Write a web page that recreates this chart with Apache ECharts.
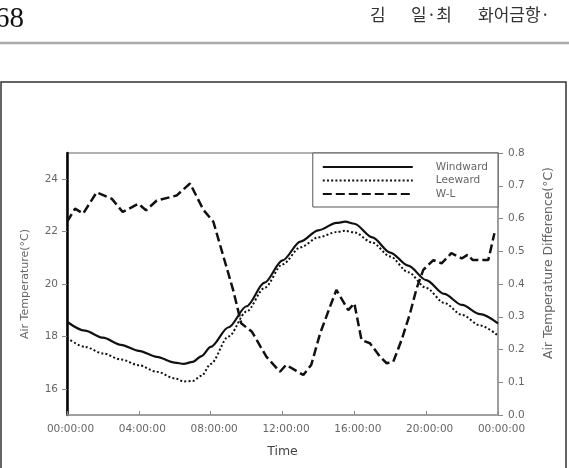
<!DOCTYPE html>
<html>
<head>
<meta charset="utf-8">
<script src="https://cdn.jsdelivr.net/npm/echarts@6/dist/echarts.min.js"></script>
<style>html,body{margin:0;padding:0;background:#fff;}#c{width:569px;height:468px;}</style>
</head>
<body>
<div id="c"></div>
<script>
// Time axis (hours) for the temperature curves
const tempHours = [0,1,2,3,4,5,6,6.5,7,7.5,8,9,10,11,12,13,14,15,15.5,16,17,18,19,20,21,22,23,24];
const windward  = [18.56,18.22,17.95,17.68,17.45,17.22,17.0,16.95,17.03,17.25,17.6,18.35,19.15,20.05,20.9,21.62,22.05,22.33,22.38,22.3,21.78,21.2,20.7,20.15,19.62,19.2,18.85,18.5];
const leeward   = [17.94,17.6,17.35,17.12,16.9,16.65,16.4,16.28,16.3,16.5,16.95,18.0,18.95,19.85,20.75,21.4,21.78,21.98,22.03,21.97,21.58,21.05,20.45,19.85,19.28,18.82,18.42,18.03];
// W-L difference (right axis)
const wlHours = [0,0.45,0.9,1.65,2.5,3.1,3.97,4.4,5.0,6.1,6.85,7.6,8.15,9.26,9.7,10.3,11.1,11.86,12.2,12.7,13.16,13.6,14.1,14.64,15.0,15.66,16.0,16.4,16.87,17.43,17.8,18.17,18.63,19.1,19.47,19.84,20.4,20.86,21.4,21.98,22.3,22.6,23.46,23.8];
const wlDiff  = [0.59,0.63,0.615,0.68,0.66,0.62,0.645,0.625,0.655,0.67,0.707,0.626,0.59,0.38,0.28,0.254,0.178,0.132,0.153,0.137,0.122,0.153,0.25,0.33,0.382,0.32,0.341,0.229,0.219,0.178,0.158,0.163,0.229,0.31,0.387,0.443,0.473,0.463,0.494,0.478,0.489,0.473,0.473,0.555];
// Tick labels
const leftTicks = [16,18,20,22,24];
const seriesNames = ['Windward','Leeward','W-L'];

const pad2 = n => (n < 10 ? '0' : '') + n;
const F = 'DejaVu Sans';
const chart = echarts.init(document.getElementById('c'), null, {renderer:'canvas'});
chart.setOption({
  animation: false,
  backgroundColor: '#fff',
  graphic: [
    {type:'text', left:-5, top:5, style:{text:'68', font:'29px "Liberation Serif"', fill:'#111'}},
    {type:'text', left:370, top:6, style:{text:'김', font:'17px "Noto Sans CJK KR"', fill:'#333'}},
    {type:'text', left:411, top:6, style:{text:'일·최', font:'17px "Noto Sans CJK KR"', fill:'#333'}},
    {type:'text', left:478, top:6, style:{text:'화어금항·', font:'17px "Noto Sans CJK KR"', fill:'#333'}},
    {type:'line', shape:{x1:0, y1:43, x2:569, y2:43}, style:{stroke:'#aaa', lineWidth:2.5}},
    {type:'rect', shape:{x:1, y:82, width:565, height:420}, style:{fill:'none', stroke:'#333', lineWidth:1.5}}
  ],
  grid: {left:67, right:71, top:153, bottom:53, show:true, borderColor:'#999', borderWidth:1.5, backgroundColor:'transparent'},
  legend: {
    data: seriesNames, orient:'vertical', right:71, top:153,
    itemWidth:90, itemHeight:10, itemGap:1.5, padding:[8,10,7,9],
    backgroundColor:'#fff', borderColor:'#555', borderWidth:1,
    itemStyle:{opacity:0},
    textStyle:{fontFamily:F, fontSize:10.5, color:'#666', padding:[0,0,0,18], lineHeight:12}
  },
  xAxis: {
    type:'value', min:0, max:24, interval:4,
    name:'Time', nameLocation:'middle', nameGap:30,
    nameTextStyle:{fontFamily:F, fontSize:12.5, color:'#444'},
    axisLine:{show:true, lineStyle:{color:'#999', width:1.5}},
    axisTick:{show:true, inside:true, length:4, lineStyle:{color:'#888'}},
    axisLabel:{fontFamily:F, fontSize:10.5, color:'#666', margin:9, padding:[0,0,0,7],
      formatter: v => pad2(v % 24) + ':00:00'},
    splitLine:{show:false}
  },
  yAxis: [
    {
      type:'value', min:15, max:25, interval:1, position:'left',
      name:'Air Temperature(°C)', nameLocation:'middle', nameGap:36,
      nameTextStyle:{fontFamily:F, fontSize:11, color:'#666'},
      axisLine:{show:true, lineStyle:{color:'#000', width:2.5}},
      axisTick:{show:true, length:5, customValues:leftTicks, lineStyle:{color:'#888'}},
      axisLabel:{fontFamily:F, fontSize:10.5, color:'#666', margin:9, customValues:leftTicks},
      splitLine:{show:false}
    },
    {
      type:'value', min:0, max:0.8, interval:0.1, position:'right',
      name:'Air Temperature Difference(°C)', nameLocation:'middle', nameGap:45,
      nameTextStyle:{fontFamily:F, fontSize:12.4, color:'#666', padding:[0,0,0,42]},
      axisLine:{show:true, lineStyle:{color:'#999', width:1.5}},
      axisTick:{show:true, length:5, lineStyle:{color:'#888'}},
      axisLabel:{fontFamily:F, fontSize:10.5, color:'#666', margin:10, formatter: v => v.toFixed(1)},
      splitLine:{show:false}
    }
  ],
  series: [
    {name:seriesNames[0], type:'line', yAxisIndex:0, symbol:'none', smooth:0.3, smoothMonotone:'x',
     data: tempHours.map((h,i)=>[h, windward[i]]),
     lineStyle:{color:'#111', width:2.2}, itemStyle:{color:'#111'}},
    {name:seriesNames[1], type:'line', yAxisIndex:0, symbol:'none', smooth:0.3, smoothMonotone:'x',
     data: tempHours.map((h,i)=>[h, leeward[i]]),
     lineStyle:{color:'#111', width:2, type:[2,2.2]}, itemStyle:{color:'#111'}},
    {name:seriesNames[2], type:'line', yAxisIndex:1, symbol:'none',
     data: wlHours.map((h,i)=>[h, wlDiff[i]]),
     lineStyle:{color:'#111', width:2.5, type:[9,4]}, itemStyle:{color:'#111'}}
  ]
});
</script>
</body>
</html>
